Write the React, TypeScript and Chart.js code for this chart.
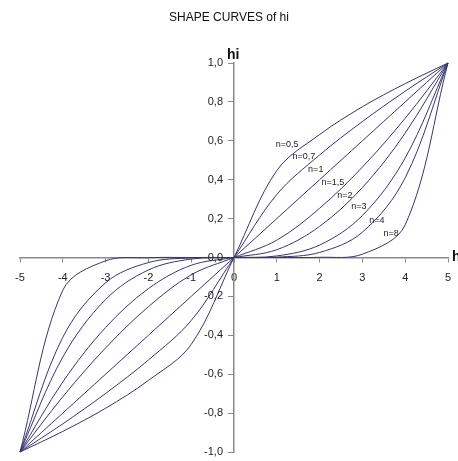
import React, { useEffect, useRef } from "react";
import { Chart, registerables } from "chart.js";

Chart.register(...registerables);

const xValues = [-5, -4, -3, -2, -1, 0, 1, 2, 3, 4, 5];

const seriesNames = ["n=0,5", "n=0,7", "n=1", "n=1,5", "n=2", "n=3", "n=4", "n=8"];

const hiN05 = [-1, -0.894, -0.775, -0.632, -0.447, 0, 0.447, 0.632, 0.775, 0.894, 1];
const hiN07 = [-1, -0.855, -0.699, -0.527, -0.324, 0, 0.324, 0.527, 0.699, 0.855, 1];
const hiN1 = [-1, -0.8, -0.6, -0.4, -0.2, 0, 0.2, 0.4, 0.6, 0.8, 1];
const hiN15 = [-1, -0.716, -0.465, -0.253, -0.089, 0, 0.089, 0.253, 0.465, 0.716, 1];
const hiN2 = [-1, -0.64, -0.36, -0.16, -0.04, 0, 0.04, 0.16, 0.36, 0.64, 1];
const hiN3 = [-1, -0.512, -0.216, -0.064, -0.008, 0, 0.008, 0.064, 0.216, 0.512, 1];
const hiN4 = [-1, -0.41, -0.13, -0.026, -0.002, 0, 0.002, 0.026, 0.13, 0.41, 1];
const hiN8 = [-1, -0.168, -0.017, -0.001, 0, 0, 0, 0.001, 0.017, 0.168, 1];

const seriesValues = [hiN05, hiN07, hiN1, hiN15, hiN2, hiN3, hiN4, hiN8];

// label anchor positions (data coordinates) for the curve annotations
const labelX = [1.24, 1.63, 1.91, 2.31, 2.59, 2.92, 3.34, 3.67];
const labelY = [0.58, 0.52, 0.45, 0.385, 0.32, 0.26, 0.19, 0.125];

const yTicks = [-1, -0.8, -0.6, -0.4, -0.2, 0, 0.2, 0.4, 0.6, 0.8, 1];

const titleText = "SHAPE CURVES of hi";
const xAxisName = "h";
const yAxisName = "hi";

const LINE_COLOR = "#35356f";
const FONT = "Arial, 'Liberation Sans', sans-serif";

const overlayPlugin = {
  id: "overlay",
  afterDraw(chart: any) {
    const ctx = chart.ctx;
    const xs = chart.scales.x;
    const ys = chart.scales.y;
    const axisX = xs.getPixelForValue(0);
    ctx.save();
    // y tick labels, from the y scale's own ticks
    ctx.fillStyle = "#222";
    ctx.font = "11px " + FONT;
    ctx.textAlign = "right";
    ctx.textBaseline = "middle";
    ys.ticks.forEach((t: any) => {
      ctx.fillText(Number(t.value).toFixed(1).replace(".", ","), axisX - 11, ys.getPixelForValue(t.value));
    });
    // title
    ctx.fillStyle = "#111";
    ctx.font = "12px " + FONT;
    ctx.textAlign = "center";
    ctx.textBaseline = "middle";
    ctx.fillText(titleText, 229, 18);
    // axis names
    ctx.font = "bold 14px " + FONT;
    ctx.textAlign = "left";
    ctx.textBaseline = "alphabetic";
    ctx.fillText(yAxisName, axisX - 7, ys.getPixelForValue(1) - 4);
    ctx.textBaseline = "middle";
    ctx.fillText(xAxisName, xs.getPixelForValue(5) + 4, ys.getPixelForValue(0));
    // curve labels
    ctx.font = "9px " + FONT;
    ctx.fillStyle = "#222";
    ctx.textAlign = "center";
    ctx.textBaseline = "middle";
    seriesNames.forEach((name, i) => {
      ctx.fillText(name, xs.getPixelForValue(labelX[i]), ys.getPixelForValue(labelY[i]));
    });
    ctx.restore();
  },
};

export default function App() {
  const canvasRef = useRef<HTMLCanvasElement | null>(null);

  useEffect(() => {
    const canvas = canvasRef.current;
    if (!canvas) return;
    const datasets = seriesValues.map((vals, i) => ({
      label: seriesNames[i],
      data: xValues.map((x, j) => ({ x, y: vals[j] })),
      showLine: true,
      borderColor: LINE_COLOR,
      backgroundColor: LINE_COLOR,
      borderWidth: 1,
      pointRadius: 0,
      tension: 0.35,
      clip: false as any,
    }));
    const chart = new Chart(canvas, {
      type: "scatter",
      data: { datasets },
      options: {
        animation: false,
        responsive: false,
        maintainAspectRatio: false,
        layout: { padding: { left: 20, right: 10, top: 63, bottom: 9 } },
        plugins: {
          legend: { display: false },
          tooltip: { enabled: false },
          title: { display: false },
        },
        scales: {
          x: {
            type: "linear",
            min: -5,
            max: 5,
            position: { y: 0 } as any,
            border: { color: "#8a8a8a", width: 1.5 },
            grid: { display: true, drawOnChartArea: false, tickLength: 4, color: "#8a8a8a" },
            afterFit: (scale: any) => {
              scale.paddingLeft = 0;
              scale.paddingRight = 0;
            },
            ticks: {
              stepSize: 1,
              padding: 10,
              color: "#222",
              font: { family: FONT, size: 11 },
              callback: (v: any) => String(v),
            },
          },
          y: {
            type: "linear",
            min: -1,
            max: 1,
            position: { x: 0 } as any,
            border: { color: "#8a8a8a", width: 1.5 },
            grid: { display: true, drawOnChartArea: false, tickLength: 5, color: "#8a8a8a" },
            afterBuildTicks: (scale: any) => {
              scale.ticks = yTicks.map((v) => ({ value: v }));
            },
            ticks: {
              display: false,
            },
          },
        },
      },
      plugins: [overlayPlugin],
    });
    return () => chart.destroy();
  }, []);

  return (
    <div style={{ position: "fixed", left: 0, top: 0, width: 458, height: 461, background: "#fff" }}>
      <canvas ref={canvasRef} width={458} height={461} style={{ width: 458, height: 461, display: "block" }} />
    </div>
  );
}
